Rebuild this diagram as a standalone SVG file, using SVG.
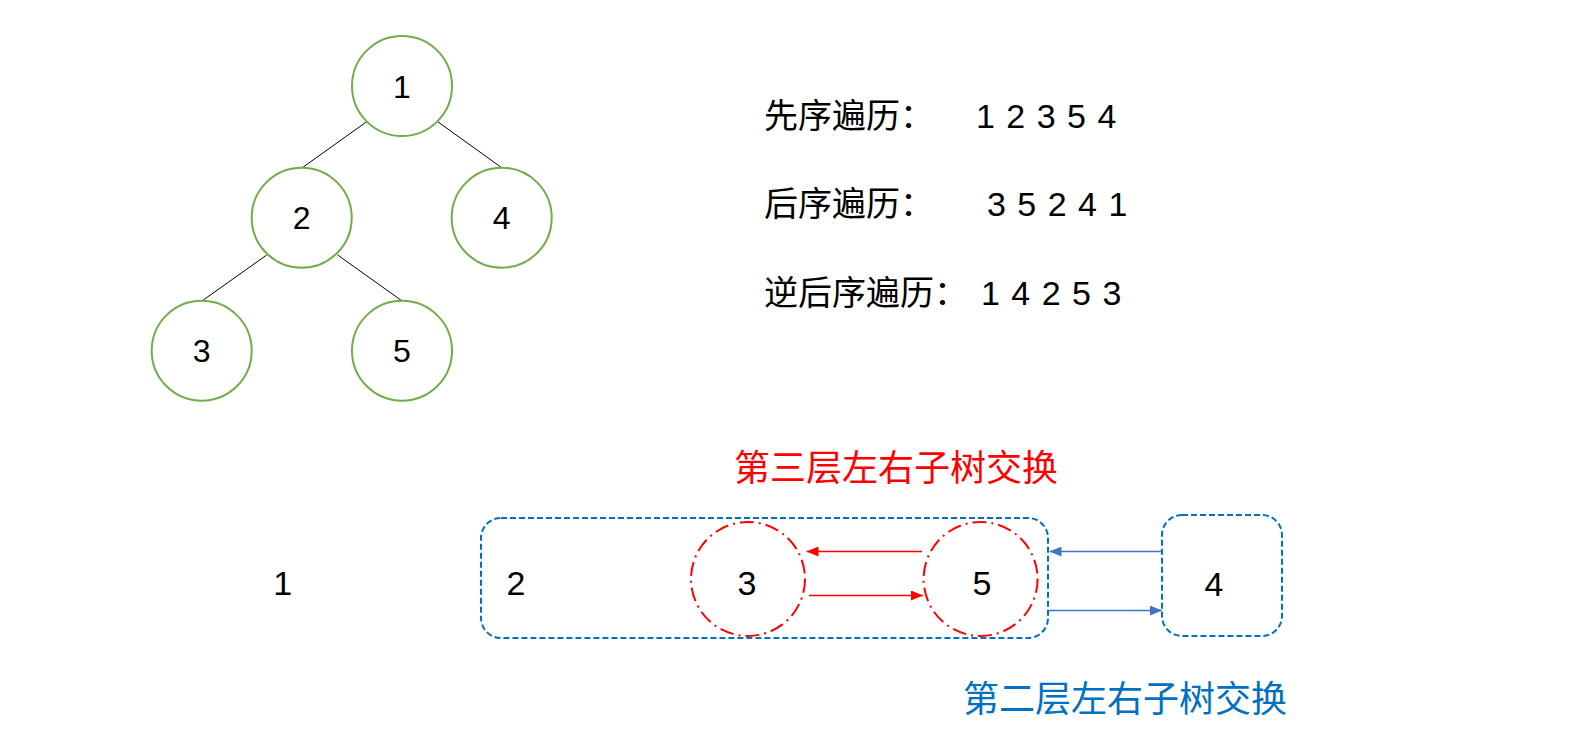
<svg xmlns="http://www.w3.org/2000/svg" width="1577" height="747" viewBox="0 0 1577 747">
<defs>
<style>
.t{font-family:"Liberation Sans","Noto Sans CJK SC",sans-serif;fill:#000}
.node circle{fill:#fff;stroke:#70AD47;stroke-width:2}
.num{font-size:32px;text-anchor:middle}
.bnum{font-size:34px;text-anchor:middle}
.trav{font-size:34px}
.edge{stroke:#000;stroke-width:1}
.rc{fill:none;stroke:#FF0000;stroke-width:2;stroke-dasharray:14 5 2 5}
.bbox{fill:none;stroke:#0070C0;stroke-width:2;stroke-dasharray:6 3}
.ra{stroke:#FF0000;stroke-width:1.3;fill:none}
.ba{stroke:#4472C4;stroke-width:1.3;fill:none}
</style>
<marker id="mr" viewBox="0 0 12 10" refX="12" refY="5" markerWidth="12" markerHeight="10" markerUnits="userSpaceOnUse" orient="auto"><path d="M0,0 L12,5 L0,10 Z" fill="#FF0000"/></marker>
<marker id="mb" viewBox="0 0 12 10" refX="12" refY="5" markerWidth="12" markerHeight="10" markerUnits="userSpaceOnUse" orient="auto"><path d="M0,0 L12,5 L0,10 Z" fill="#4472C4"/></marker>
</defs>
<rect width="1577" height="747" fill="#fff"/>

<g id="tree-edges">
<line class="edge" x1="366.7" y1="121.7" x2="302.3" y2="167.7"/>
<line class="edge" x1="437.7" y1="121.7" x2="501.7" y2="167.7"/>
<line class="edge" x1="266.7" y1="255" x2="202.3" y2="300.7"/>
<line class="edge" x1="337.7" y1="255" x2="401.7" y2="300.7"/>
</g>

<g id="t1" class="node"><circle cx="402" cy="86" r="50"/><text class="t num" x="402" y="97.5">1</text></g>
<g id="t2" class="node"><circle cx="301.7" cy="217.7" r="50"/><text class="t num" x="301.7" y="229">2</text></g>
<g id="t4" class="node"><circle cx="501.7" cy="217.7" r="50"/><text class="t num" x="501.7" y="229">4</text></g>
<g id="t3" class="node"><circle cx="201.7" cy="350.7" r="50"/><text class="t num" x="201.7" y="362">3</text></g>
<g id="t5" class="node"><circle cx="402" cy="350.7" r="50"/><text class="t num" x="402" y="362">5</text></g>

<g id="traversals">
<text class="t trav" x="764" y="127.5">先序遍历：<tspan x="976" letter-spacing="1">1 2 3 5 4</tspan></text>
<text class="t trav" x="764" y="216">后序遍历：<tspan x="987" letter-spacing="1">3 5 2 4 1</tspan></text>
<text class="t trav" x="764" y="304.5">逆后序遍历：<tspan x="981" letter-spacing="1">1 4 2 5 3</tspan></text>
</g>

<g id="label-l3"><text class="t" x="734" y="481" font-size="36" fill="#FF0000" style="fill:#FF0000">第三层左右子树交换</text></g>
<g id="label-l2"><text class="t" x="963" y="712" font-size="36" style="fill:#0070C0">第二层左右子树交换</text></g>

<g id="b1"><text class="t bnum" x="282.6" y="595">1</text></g>
<g id="b2group"><rect class="bbox" x="481" y="518" width="567" height="120" rx="20"/><text class="t bnum" x="516" y="595">2</text></g>
<g id="b3"><circle class="rc" cx="748" cy="579" r="57"/><text class="t bnum" x="747" y="595">3</text></g>
<g id="b5"><circle class="rc" cx="980.6" cy="579" r="57"/><text class="t bnum" x="982" y="595">5</text></g>
<g id="b4"><rect class="bbox" x="1162" y="515" width="120" height="121" rx="20"/><text class="t bnum" x="1214" y="596">4</text></g>

<g id="connectors">
<line class="ra" x1="922" y1="551.5" x2="806.5" y2="551.5" marker-end="url(#mr)"/>
<line class="ra" x1="809" y1="595.5" x2="923" y2="595.5" marker-end="url(#mr)"/>
<line class="ba" x1="1162" y1="551.5" x2="1049.5" y2="551.5" marker-end="url(#mb)"/>
<line class="ba" x1="1049" y1="610.5" x2="1162" y2="610.5" marker-end="url(#mb)"/>
</g>
</svg>
